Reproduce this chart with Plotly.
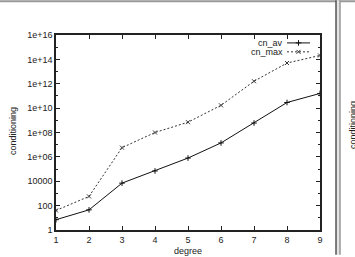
import plotly.graph_objects as go

degree = [1, 2, 3, 4, 5, 6, 7, 8, 9]
cn_av = [7, 45, 7e3, 7e4, 8e5, 1.4e7, 6e8, 2.9e10, 1.6e11]
cn_max = [40, 570, 5.7e6, 1e8, 7e8, 1.7e10, 1.6e12, 5e13, 2.1e14]
ytick_vals = [1, 100, 1e4, 1e6, 1e8, 1e10, 1e12, 1e14, 1e16]
ytick_text = ["1", "100", "10000", "1e+06", "1e+08", "1e+10", "1e+12", "1e+14", "1e+16"]

W, H = 355, 257
L, R, T, B = 56, 35, 35, 25
PW, PH = W - L - R, H - T - B

def px(x):
    return (x - L) / PW

def py(y):
    return (H - B - y) / PH

font = dict(family="Liberation Sans, Arial, sans-serif", size=9, color="#222")

fig = go.Figure()
fig.add_trace(go.Scatter(x=degree, y=cn_av, mode="lines+markers", name="cn_av",
                         line=dict(color="#111", width=1),
                         marker=dict(symbol="cross-thin", size=4, line=dict(color="#111", width=1)),
                         showlegend=False))
fig.add_trace(go.Scatter(x=degree, y=cn_max, mode="lines+markers", name="cn_max",
                         line=dict(color="#333", width=1, dash="2px,2px"),
                         marker=dict(symbol="x-thin", size=4, line=dict(color="#333", width=1)),
                         showlegend=False))

# legend samples (gnuplot style) on helper axes
leg_rows = [("cn_av", 43, "#111", "solid", "cross-thin"), ("cn_max", 52, "#333", "2px,2px", "x-thin")]
for name, yy, col, dash, sym in leg_rows:
    fig.add_trace(go.Scatter(x=[px(287), px(310)], y=[py(yy), py(yy)], mode="lines",
                             xaxis="x2", yaxis="y2", showlegend=False, hoverinfo="skip",
                             line=dict(color=col, width=1, dash=dash)))
    fig.add_trace(go.Scatter(x=[px(298.5)], y=[py(yy)], mode="markers",
                             xaxis="x2", yaxis="y2", showlegend=False, hoverinfo="skip",
                             marker=dict(symbol=sym, size=4, line=dict(color=col, width=1))))
    fig.add_annotation(x=px(285), y=py(yy), xref="paper", yref="paper", text=name,
                       showarrow=False, xanchor="right", yanchor="middle", font=font)

fig.update_layout(
    width=W, height=H,
    margin=dict(l=L, r=R, t=T, b=B),
    paper_bgcolor="white", plot_bgcolor="white",
    font=font,
    xaxis=dict(range=[1, 9], dtick=1, tick0=1, ticks="inside", ticklen=4, tickcolor="#222",
               showline=True, linecolor="#222", linewidth=1.5, mirror="allticks",
               showgrid=False, zeroline=False, tickfont=font),
    yaxis=dict(type="log", range=[0, 16], tickvals=ytick_vals, ticktext=ytick_text,
               ticks="inside", ticklen=4, tickcolor="#222",
               showline=True, linecolor="#222", linewidth=1.5, mirror="allticks",
               showgrid=False, zeroline=False, tickfont=font,
               minor=dict(dtick=1, ticks="inside", ticklen=2, tickcolor="#222")),
    xaxis2=dict(range=[0, 1], overlaying="x", visible=False, fixedrange=True),
    yaxis2=dict(range=[0, 1], overlaying="y", visible=False, fixedrange=True),
)

fig.add_annotation(x=px(188), y=py(253), xref="paper", yref="paper", text="degree",
                   showarrow=False, xanchor="center", yanchor="middle", font=font)
fig.add_annotation(x=px(13), y=py(132), xref="paper", yref="paper", text="conditioning",
                   showarrow=False, textangle=-90, xanchor="center", yanchor="middle", font=font)
# neighbouring panel's label, cut off at the right edge (as in the reference)
fig.add_annotation(x=px(353), y=py(126), xref="paper", yref="paper", text="conditioning",
                   showarrow=False, textangle=-90, xanchor="center", yanchor="middle", font=font)

# screenshot frame
fig.add_shape(type="line", xref="paper", yref="paper", x0=px(0), x1=px(355), y0=py(1), y1=py(1),
              line=dict(color="#999", width=2))
fig.add_shape(type="rect", xref="paper", yref="paper", x0=px(336), x1=px(340), y0=py(0), y1=py(257),
              fillcolor="#e4e4e4", line=dict(width=0))
fig.add_shape(type="line", xref="paper", yref="paper", x0=px(336), x1=px(336), y0=py(0), y1=py(257),
              line=dict(color="#555", width=1.5))
fig.add_shape(type="line", xref="paper", yref="paper", x0=px(340), x1=px(340), y0=py(0), y1=py(257),
              line=dict(color="#999", width=1.5))

fig.write_html("out.html")
